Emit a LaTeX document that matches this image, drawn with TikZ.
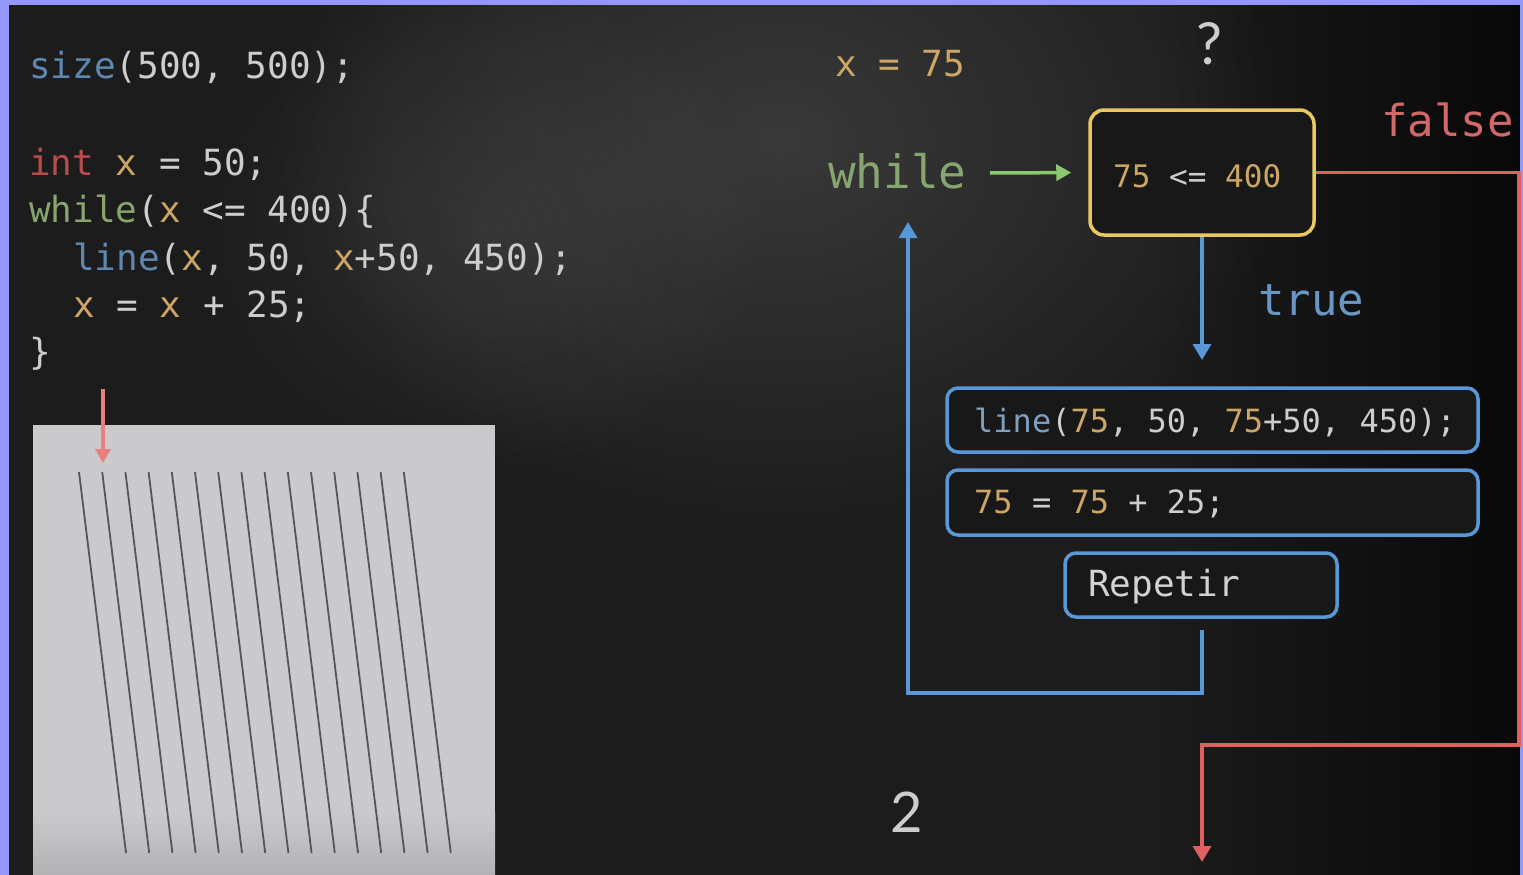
\documentclass[tikz,border=0pt]{standalone}
\usepackage{fontspec}
\setmainfont{Lato}
\setmonofont{DejaVu Sans Mono}
\usetikzlibrary{arrows.meta,fadings}
\definecolor{bg}{HTML}{1C1C1C}
\definecolor{bgdark}{HTML}{080808}
\definecolor{frame}{RGB}{148,152,250}
\definecolor{canvas}{RGB}{202,202,204}
\definecolor{canvasdark}{RGB}{178,178,180}
\definecolor{plotline}{RGB}{85,85,88}
\definecolor{codegray}{RGB}{205,205,205}
\definecolor{kwblue}{RGB}{95,135,175}
\definecolor{kwred}{RGB}{185,75,75}
\definecolor{kwgreen}{RGB}{135,165,110}
\definecolor{vartan}{RGB}{205,165,100}
\definecolor{chalkblue}{RGB}{88,152,215}
\definecolor{chalkyellow}{RGB}{232,200,95}
\definecolor{chalkred}{RGB}{225,95,95}
\definecolor{chalkgreen}{RGB}{140,200,110}
\definecolor{falsered}{RGB}{210,105,105}
\definecolor{trueblue}{RGB}{105,150,195}
\definecolor{boxfill}{HTML}{181818}
\tikzfading[name=softspot,inner color=transparent!0,outer color=transparent!100]
\begin{document}
\begin{tikzpicture}[x=1pt,y=-1pt,
  code/.style={anchor=base west,inner sep=0pt,text=codegray,font=\ttfamily\fontsize{36}{40}\selectfont},
  boxcode/.style={anchor=base west,inner sep=0pt,text=codegray,font=\ttfamily\fontsize{32}{36}\selectfont},
  bluebox/.style={draw=chalkblue,line width=3.5pt,rounded corners=11pt,fill=boxfill},
  yellowbox/.style={draw=chalkyellow,line width=3.5pt,rounded corners=14pt,fill=boxfill},
  tip/.style={-{Triangle[width=18pt,length=16pt]}},
  bluearrow/.style={draw=chalkblue,line width=3.5pt,tip},
  redarrow/.style={draw=chalkred,line width=3.5pt,tip},
  plot/.style={draw=plotline,line width=1.8pt}
]
\useasboundingbox (0,0) rectangle (1523,875);
% background
\fill[bg] (0,0) rectangle (1523,875);
\shade[left color=bg,right color=bgdark] (1150,0) rectangle (1523,875);
\fill[white,fill opacity=0.13,path fading=softspot] (780,140) ellipse (520 and 400);
\fill[white,fill opacity=0.07,path fading=softspot] (480,230) ellipse (300 and 260);
% frame
\fill[frame] (0,0) rectangle (1523,5);
\fill[frame] (0,0) rectangle (9,875);
\fill[frame] (1520,0) rectangle (1523,875);

% code
\node[code] (c1) at (29,78) {\textcolor{kwblue}{size}(500, 500);};
\node[code] (c2) at (29,175) {\textcolor{kwred}{int} \textcolor{vartan}{x} = 50;};
\node[code] (c3) at (29,222) {\textcolor{kwgreen}{while}(\textcolor{vartan}{x} <= 400)\{};
\node[code] (c4) at (73,270) {\textcolor{kwblue}{line}(\textcolor{vartan}{x}, 50, \textcolor{vartan}{x}+50, 450);};
\node[code] (c5) at (73,317) {\textcolor{vartan}{x} = \textcolor{vartan}{x} + 25;};
\node[code] (c6) at (29,364) {\}};

% canvas
\fill[canvas] (33,425) rectangle (495,875);
\shade[top color=canvas,bottom color=canvasdark] (33,812) rectangle (495,875);
\foreach \i in {0,...,14}{
  \draw[plot] ({79+23.2*\i},472) -- ({126+23.2*\i},853);
}
\coordinate (pa) at (103,389);
\coordinate (pb) at (103,463);
\draw[draw=chalkred!80!white,line width=3.5pt,-{Triangle[width=15pt,length=14pt]}] (pa) -- (pb);

% flow diagram
\node[anchor=base west,inner sep=0pt,text=vartan,font=\ttfamily\fontsize{36}{40}\selectfont] (xval) at (835,77) {x = 75};
\node[anchor=base,inner sep=0pt,text=codegray,font=\fontsize{58}{60}\selectfont] (q) at (1209,64) {?};
\node[anchor=base west,inner sep=0pt,text=kwgreen,font=\ttfamily\fontsize{46}{50}\selectfont] (wh) at (828,188) {while};
\node[yellowbox,minimum width=224pt,minimum height=125pt] (cond) at (1202,172.5) {};
\node[anchor=base west,inner sep=0pt,text=vartan,font=\ttfamily\fontsize{31}{34}\selectfont] (condtxt) at (1113,187) {75 \textcolor{codegray}{<=} 400};
\node[anchor=base west,inner sep=0pt,text=falsered,font=\ttfamily\fontsize{44}{48}\selectfont] (ff) at (1381,136) {false};
\node[anchor=base west,inner sep=0pt,text=trueblue,font=\ttfamily\fontsize{44}{48}\selectfont] (tt) at (1258,315) {true};

\coordinate (g1) at (990,173);
\draw[draw=chalkgreen,line width=3.5pt,-{Triangle[width=16pt,length=15pt]},shorten >=17pt] (g1) -- (cond.west);

\node[bluebox,minimum width=531pt,minimum height=64pt] (b1) at (1212.5,420) {};
\node[boxcode] (b1t) at (974,432) {\textcolor{kwblue!80!white}{line}(\textcolor{vartan}{75}, 50, \textcolor{vartan}{75}+50, 450);};
\node[bluebox,minimum width=531pt,minimum height=65pt] (b2) at (1212.5,502.5) {};
\node[boxcode] (b2t) at (974,513) {\textcolor{vartan}{75} = \textcolor{vartan}{75} + 25;};
\node[bluebox,minimum width=272pt,minimum height=64pt] (b3) at (1201,585) {};
\node[code,text=codegray!90!white] (b3t) at (1088,596) {Repetir};

\coordinate (d1) at (1202,360);
\draw[bluearrow] (cond.south) -- (d1);

\coordinate (l0) at (1202,630);
\coordinate (l1) at (908,693);
\coordinate (l2) at (908,222);
\draw[bluearrow] (l0) |- (l1) -- (l2);

\coordinate (r1) at (1519,172.5);
\coordinate (r2) at (1519,745);
\coordinate (r3) at (1202,862);
\draw[redarrow] (cond.east) -- (r1) -- (r2) -| (r3);

\node[anchor=base,inner sep=0pt,text=codegray,font=\fontsize{56}{60}\selectfont] (two) at (907,832) {2};
\end{tikzpicture}
\end{document}
